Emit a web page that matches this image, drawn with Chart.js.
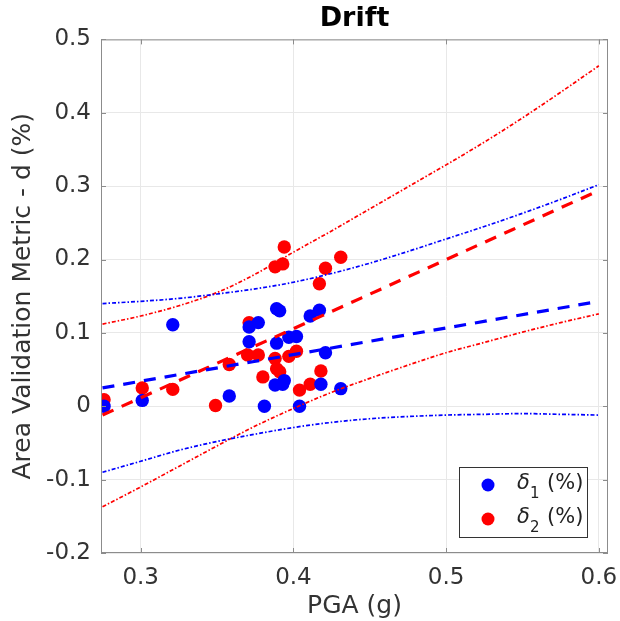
<!DOCTYPE html>
<html>
<head>
<meta charset="utf-8">
<script src="https://cdn.jsdelivr.net/npm/chart.js@4.4.1/dist/chart.umd.min.js"></script>
<style>
  body { margin: 0; background: #fff; }
  #wrap { width: 620px; height: 621px; }
</style>
</head>
<body>
<div id="wrap"><canvas id="driftChart" width="620" height="621"></canvas></div>
<script>
// measured points
const blueX = [0.276, 0.301, 0.321, 0.358, 0.381, 0.371, 0.377, 0.371, 0.389, 0.391, 0.389,
               0.397, 0.402, 0.388, 0.393, 0.394, 0.404, 0.411, 0.417, 0.421, 0.418, 0.431];
const blueY = [0.000, 0.008, 0.111, 0.014, 0.000, 0.108, 0.114, 0.088, 0.133, 0.130, 0.086,
               0.094, 0.095, 0.029, 0.030, 0.035, 0.000, 0.123, 0.131, 0.073, 0.030, 0.024];
const redX = [0.276, 0.301, 0.321, 0.349, 0.358, 0.371, 0.370, 0.377, 0.380, 0.388, 0.389, 0.391,
              0.397, 0.402, 0.404, 0.411, 0.418, 0.417, 0.421, 0.431, 0.388, 0.393, 0.394];
const redY = [0.009, 0.025, 0.023, 0.001, 0.057, 0.114, 0.070, 0.070, 0.040, 0.065, 0.051, 0.047,
              0.068, 0.075, 0.022, 0.030, 0.048, 0.167, 0.188, 0.203, 0.190, 0.194, 0.217];

// linear fits (end points)
const fitX = [0.275, 0.6];
const blueFit = [0.025, 0.143];
const redFit = [-0.012, 0.294];

// confidence bounds read along x
const bandX = [0.275, 0.3, 0.325, 0.35, 0.375, 0.4, 0.425, 0.45, 0.475, 0.5, 0.525, 0.55, 0.575, 0.6];
const blueUpper = [0.140, 0.143, 0.147, 0.153, 0.160, 0.169, 0.181, 0.195, 0.211, 0.228, 0.245, 0.263, 0.282, 0.302];
const blueLower = [-0.090, -0.075, -0.060, -0.048, -0.038, -0.029, -0.022, -0.017, -0.014, -0.012, -0.011, -0.010, -0.011, -0.012];
const redUpper = [0.112, 0.123, 0.137, 0.155, 0.180, 0.210, 0.239, 0.269, 0.299, 0.329, 0.360, 0.393, 0.428, 0.464];
const redLower = [-0.137, -0.110, -0.082, -0.054, -0.027, -0.003, 0.019, 0.038, 0.056, 0.073, 0.087, 0.101, 0.114, 0.126];

const xTicks = [0.3, 0.4, 0.5, 0.6];
const yTicks = [-0.2, -0.1, 0, 0.1, 0.2, 0.3, 0.4, 0.5];
const legendSubs = ["1", "2"];

const BLUE = "#0000ff";
const RED = "#ff0000";
const FONT = "'DejaVu Sans', sans-serif";

const pts = (xs, ys) => xs.map((x, i) => ({ x, y: ys[i] }));

function lineSet(label, xs, ys, color, dash, width) {
  return {
    type: "line",
    label,
    data: pts(xs, ys),
    borderColor: color,
    borderWidth: width,
    borderDash: dash,
    pointRadius: 0,
    fill: false,
    cubicInterpolationMode: "monotone"
  };
}

// box, inward ticks and legend like the original figure
const boxPlugin = {
  id: "boxPlugin",
  afterDraw(chart) {
    const { ctx, chartArea: a, scales } = chart;
    ctx.save();
    ctx.strokeStyle = "#8c8c8c";
    ctx.lineWidth = 1;
    ctx.strokeRect(a.left + 0.5, a.top + 0.5, a.right - a.left - 1, a.bottom - a.top - 1);
    ctx.beginPath();
    xTicks.forEach(v => {
      const px = Math.round(scales.x.getPixelForValue(v)) + 0.5;
      ctx.moveTo(px, a.bottom); ctx.lineTo(px, a.bottom - 5);
      ctx.moveTo(px, a.top); ctx.lineTo(px, a.top + 5);
    });
    yTicks.forEach(v => {
      const py = Math.round(scales.y.getPixelForValue(v)) + 0.5;
      ctx.moveTo(a.left, py); ctx.lineTo(a.left + 5, py);
      ctx.moveTo(a.right, py); ctx.lineTo(a.right - 5, py);
    });
    ctx.stroke();

    // legend
    const w = 128, h = 70;
    const lx = a.right - 21 - w, ly = a.bottom - 16 - h;
    ctx.fillStyle = "#fff";
    ctx.fillRect(lx, ly, w, h);
    ctx.strokeStyle = "#333";
    ctx.strokeRect(lx + 0.5, ly + 0.5, w, h);
    [BLUE, RED].forEach((c, i) => {
      const cy = ly + 18 + i * 34;
      ctx.fillStyle = c;
      ctx.beginPath();
      ctx.arc(lx + 29, cy, 6.5, 0, Math.PI * 2);
      ctx.fill();
      ctx.fillStyle = "#222";
      ctx.textBaseline = "middle";
      ctx.font = "italic 21px " + FONT;
      ctx.fillText("δ", lx + 58, cy - 1);
      ctx.font = "15px " + FONT;
      ctx.fillText(legendSubs[i], lx + 71, cy + 9);
      ctx.font = "21px " + FONT;
      ctx.fillText("(%)", lx + 88, cy - 1);
    });
    ctx.restore();
  }
};

new Chart(document.getElementById("driftChart"), {
  type: "scatter",
  data: {
    datasets: [
      lineSet("fit 1", fitX, blueFit, BLUE, [12, 9], 3.2),
      lineSet("fit 2", fitX, redFit, RED, [12, 9], 3.2),
      lineSet("upper 1", bandX, blueUpper, BLUE, [4, 2, 1.5, 2], 1.7),
      lineSet("lower 1", bandX, blueLower, BLUE, [4, 2, 1.5, 2], 1.7),
      lineSet("upper 2", bandX, redUpper, RED, [4, 2, 1.5, 2], 1.7),
      lineSet("lower 2", bandX, redLower, RED, [4, 2, 1.5, 2], 1.7),
      {
        label: "δ₁ (%)",
        data: pts(blueX, blueY),
        backgroundColor: BLUE,
        borderWidth: 0,
        pointRadius: 6.7
      },
      {
        label: "δ₂ (%)",
        data: pts(redX, redY),
        backgroundColor: RED,
        borderWidth: 0,
        pointRadius: 6.7
      }
    ]
  },
  options: {
    responsive: false,
    animation: false,
    layout: { padding: { top: 0, right: 12, bottom: 0, left: 0 } },
    plugins: {
      legend: { display: false },
      tooltip: { enabled: false },
      title: {
        display: true,
        fullSize: false,
        text: "Drift",
        color: "#000",
        font: { family: FONT, size: 27, weight: "bold" },
        padding: { top: 3, bottom: 4 }
      }
    },
    scales: {
      x: {
        type: "linear",
        min: 0.274,
        max: 0.606,
        afterBuildTicks: s => { s.ticks = xTicks.map(v => ({ value: v })); },
        afterFit: s => { s.height = 68; s.paddingLeft = 0; s.paddingRight = 0; },
        grid: { color: "#e8e8e8", drawTicks: false },
        border: { display: false },
        ticks: {
          color: "#333",
          padding: 11,
          font: { family: FONT, size: 23 },
          callback: v => String(Math.round(v * 10) / 10)
        },
        title: {
          display: true,
          text: "PGA (g)",
          color: "#333",
          font: { family: FONT, size: 25 },
          padding: { top: 0, bottom: 0 }
        }
      },
      y: {
        min: -0.2,
        max: 0.5,
        afterBuildTicks: s => { s.ticks = yTicks.map(v => ({ value: v })); },
        afterFit: s => { s.width = 101; s.paddingTop = 0; s.paddingBottom = 0; },
        grid: { color: "#e8e8e8", drawTicks: false },
        border: { display: false },
        ticks: {
          color: "#333",
          padding: 10,
          font: { family: FONT, size: 23 },
          callback: v => String(Math.round(v * 10) / 10)
        },
        title: {
          display: true,
          text: "Area Validation Metric - d (%)",
          color: "#333",
          font: { family: FONT, size: 25 },
          padding: { top: 8, bottom: 0 }
        }
      }
    }
  },
  plugins: [boxPlugin]
});
</script>
</body>
</html>
